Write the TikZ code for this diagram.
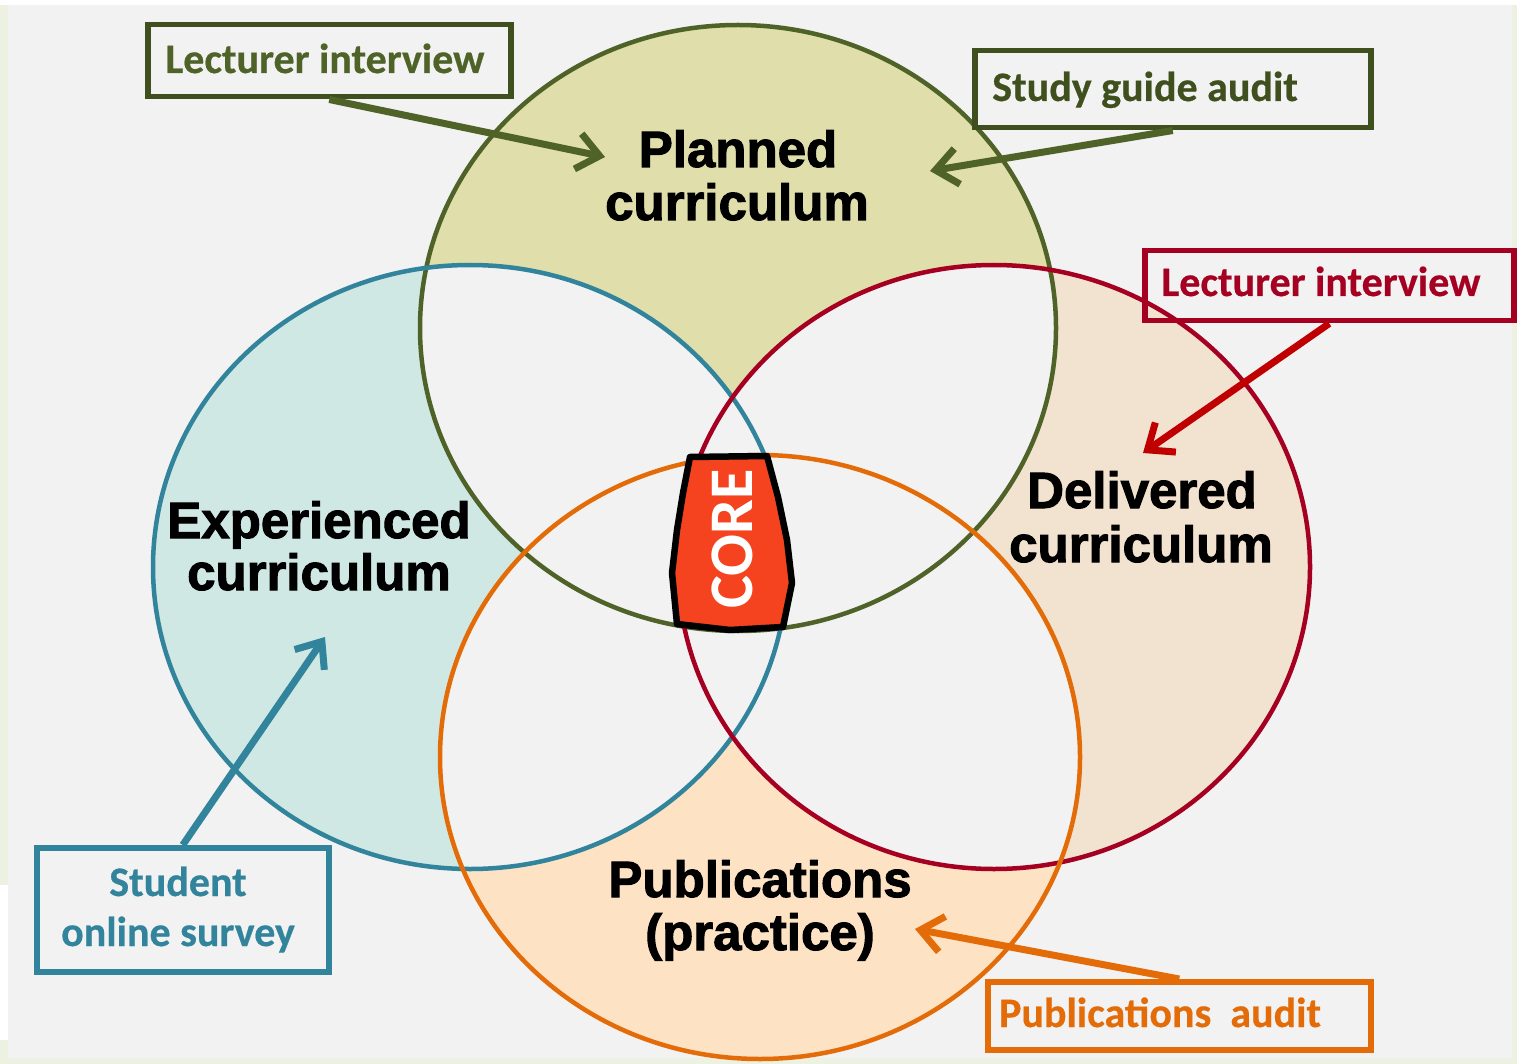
\documentclass[tikz,border=0pt]{standalone}
\usepackage{fontspec}
\usetikzlibrary{arrows.meta}
\newfontfamily\labfont[FakeBold=2]{Liberation Sans}
\newfontfamily\boxfont[FakeBold=0.5]{Carlito}
\newfontfamily\corefont{Carlito}
\definecolor{bggray}{RGB}{242,242,242}
\definecolor{edgegreen}{RGB}{237,241,226}
\definecolor{cgreen}{RGB}{79,98,40}
\definecolor{cgreendark}{RGB}{63,80,30}
\definecolor{fgreen}{RGB}{224,222,171}
\definecolor{cblue}{RGB}{49,132,155}
\definecolor{fblue}{RGB}{208,232,228}
\definecolor{cred}{RGB}{165,0,33}
\definecolor{credarrow}{RGB}{192,0,0}
\definecolor{fred}{RGB}{242,226,208}
\definecolor{corange}{RGB}{227,108,9}
\definecolor{forange}{RGB}{253,226,196}
\definecolor{corered}{RGB}{244,67,30}
\begin{document}
\begin{tikzpicture}[x=1pt,y=-1pt,
  circ/.style={line width=4.5pt},
  boxst/.style={draw, line width=5.5pt, rectangle, inner sep=0pt, anchor=north west},
  arr/.style={line width=7pt, -{Straight Barb[length=22pt,width=36pt]}},
  big/.style={font=\labfont\bfseries\fontsize{51}{51}\selectfont, anchor=base, text=black, inner sep=0pt},
  small/.style={font=\boxfont\bfseries\fontsize{42}{42}\selectfont, anchor=base, inner sep=0pt}]
\useasboundingbox (0,0) rectangle (1517,1064);
% page edges and background
\fill[edgegreen] (0,0) rectangle (1517,1064);
\fill[white] (0,0) rectangle (1517,5);
\fill[white] (0,885) rectangle (8,1040);
\fill[bggray] (8,5) rectangle (1512,1058);
% ellipse fills
\def\EP{(738,328) ellipse [x radius=318, y radius=303]}
\def\EE{(470,567) ellipse [x radius=317, y radius=302]}
\def\ED{(994,567) ellipse [x radius=316, y radius=302]}
\def\EU{(760,757) ellipse [x radius=320, y radius=302]}
\fill[fgreen] \EP;
\fill[fblue] \EE;
\fill[fred] \ED;
\fill[forange] \EU;
\begin{scope}\clip \EP; \fill[bggray] \EE; \fill[bggray] \ED; \fill[bggray] \EU; \end{scope}
\begin{scope}\clip \EE; \fill[bggray] \ED; \fill[bggray] \EU; \end{scope}
\begin{scope}\clip \ED; \fill[bggray] \EU; \end{scope}
% outlines
\draw[circ, cgreen] \EP;
\draw[circ, cblue] \EE;
\draw[circ, cred] \ED;
\draw[circ, corange] \EU;
% core
\draw[line width=6.5pt, line join=round, fill=corered]
  (690,457) -- (767,456) -- (778,497) -- (787,540) -- (792,583) -- (783,627)
  -- (730,630) -- (677,624) -- (672,573) -- (677,530) -- (683,493) -- cycle;
\node[rotate=90, text=white, inner sep=0pt,
  font=\corefont\bfseries\fontsize{62}{62}\selectfont] (core) at (732,539) {CORE};
% circle labels
\node[big] (p1) at (738,167) {Planned};
\node[big] (p2) at (737,220) {curriculum};
\node[big] (e1) at (319,538) {Experienced};
\node[big] (e2) at (319,590) {curriculum};
\node[big] (d1) at (1142,508) {Delivered};
\node[big] (d2) at (1141,562) {curriculum};
\node[big] (u1) at (760,897) {Publications};
\node[big] (u2) at (760,950) {(practice)};
% boxes
\node[boxst, draw=cgreendark, minimum width=363pt, minimum height=72pt] (b1) at (145,22) {};
\node[boxst, draw=cgreendark, minimum width=396pt, minimum height=77pt] (b2) at (972,48) {};
\node[boxst, draw=cred, minimum width=369pt, minimum height=70pt] (b3) at (1142,248) {};
\node[boxst, draw=cblue, minimum width=292pt, minimum height=124pt] (b4) at (34,845) {};
\node[boxst, draw=corange, minimum width=383pt, minimum height=68pt] (b5) at (985,979) {};
% box texts
\node[small, text=cgreen] (t1) at (325,73) {Lecturer interview};
\node[small, text=cgreendark] (t2) at (1145,101) {Study guide audit};
\node[small, text=cred] (t3) at (1321,296) {Lecturer interview};
\node[small, text=cblue] (t4a) at (178,896) {Student};
\node[small, text=cblue] (t4b) at (178,946) {online survey};
\node[small, text=corange] (t5) at (1160,1027) {Publications\ \ audit};
% arrow tips
\coordinate (h1) at (605,157);
\coordinate (h2) at (930,171);
\coordinate (h3) at (1143,453);
\coordinate (h4) at (325,637);
\coordinate (h5) at (915,929);
% arrows
\draw[arr, cgreen] (b1.south) -- (h1);
\draw[arr, cgreen] (b2.south) -- (h2);
\draw[arr, credarrow] (b3.south) -- (h3);
\draw[arr, cblue] (b4.north) -- (h4);
\draw[arr, corange] (b5.north) -- (h5);
\end{tikzpicture}
\end{document}
